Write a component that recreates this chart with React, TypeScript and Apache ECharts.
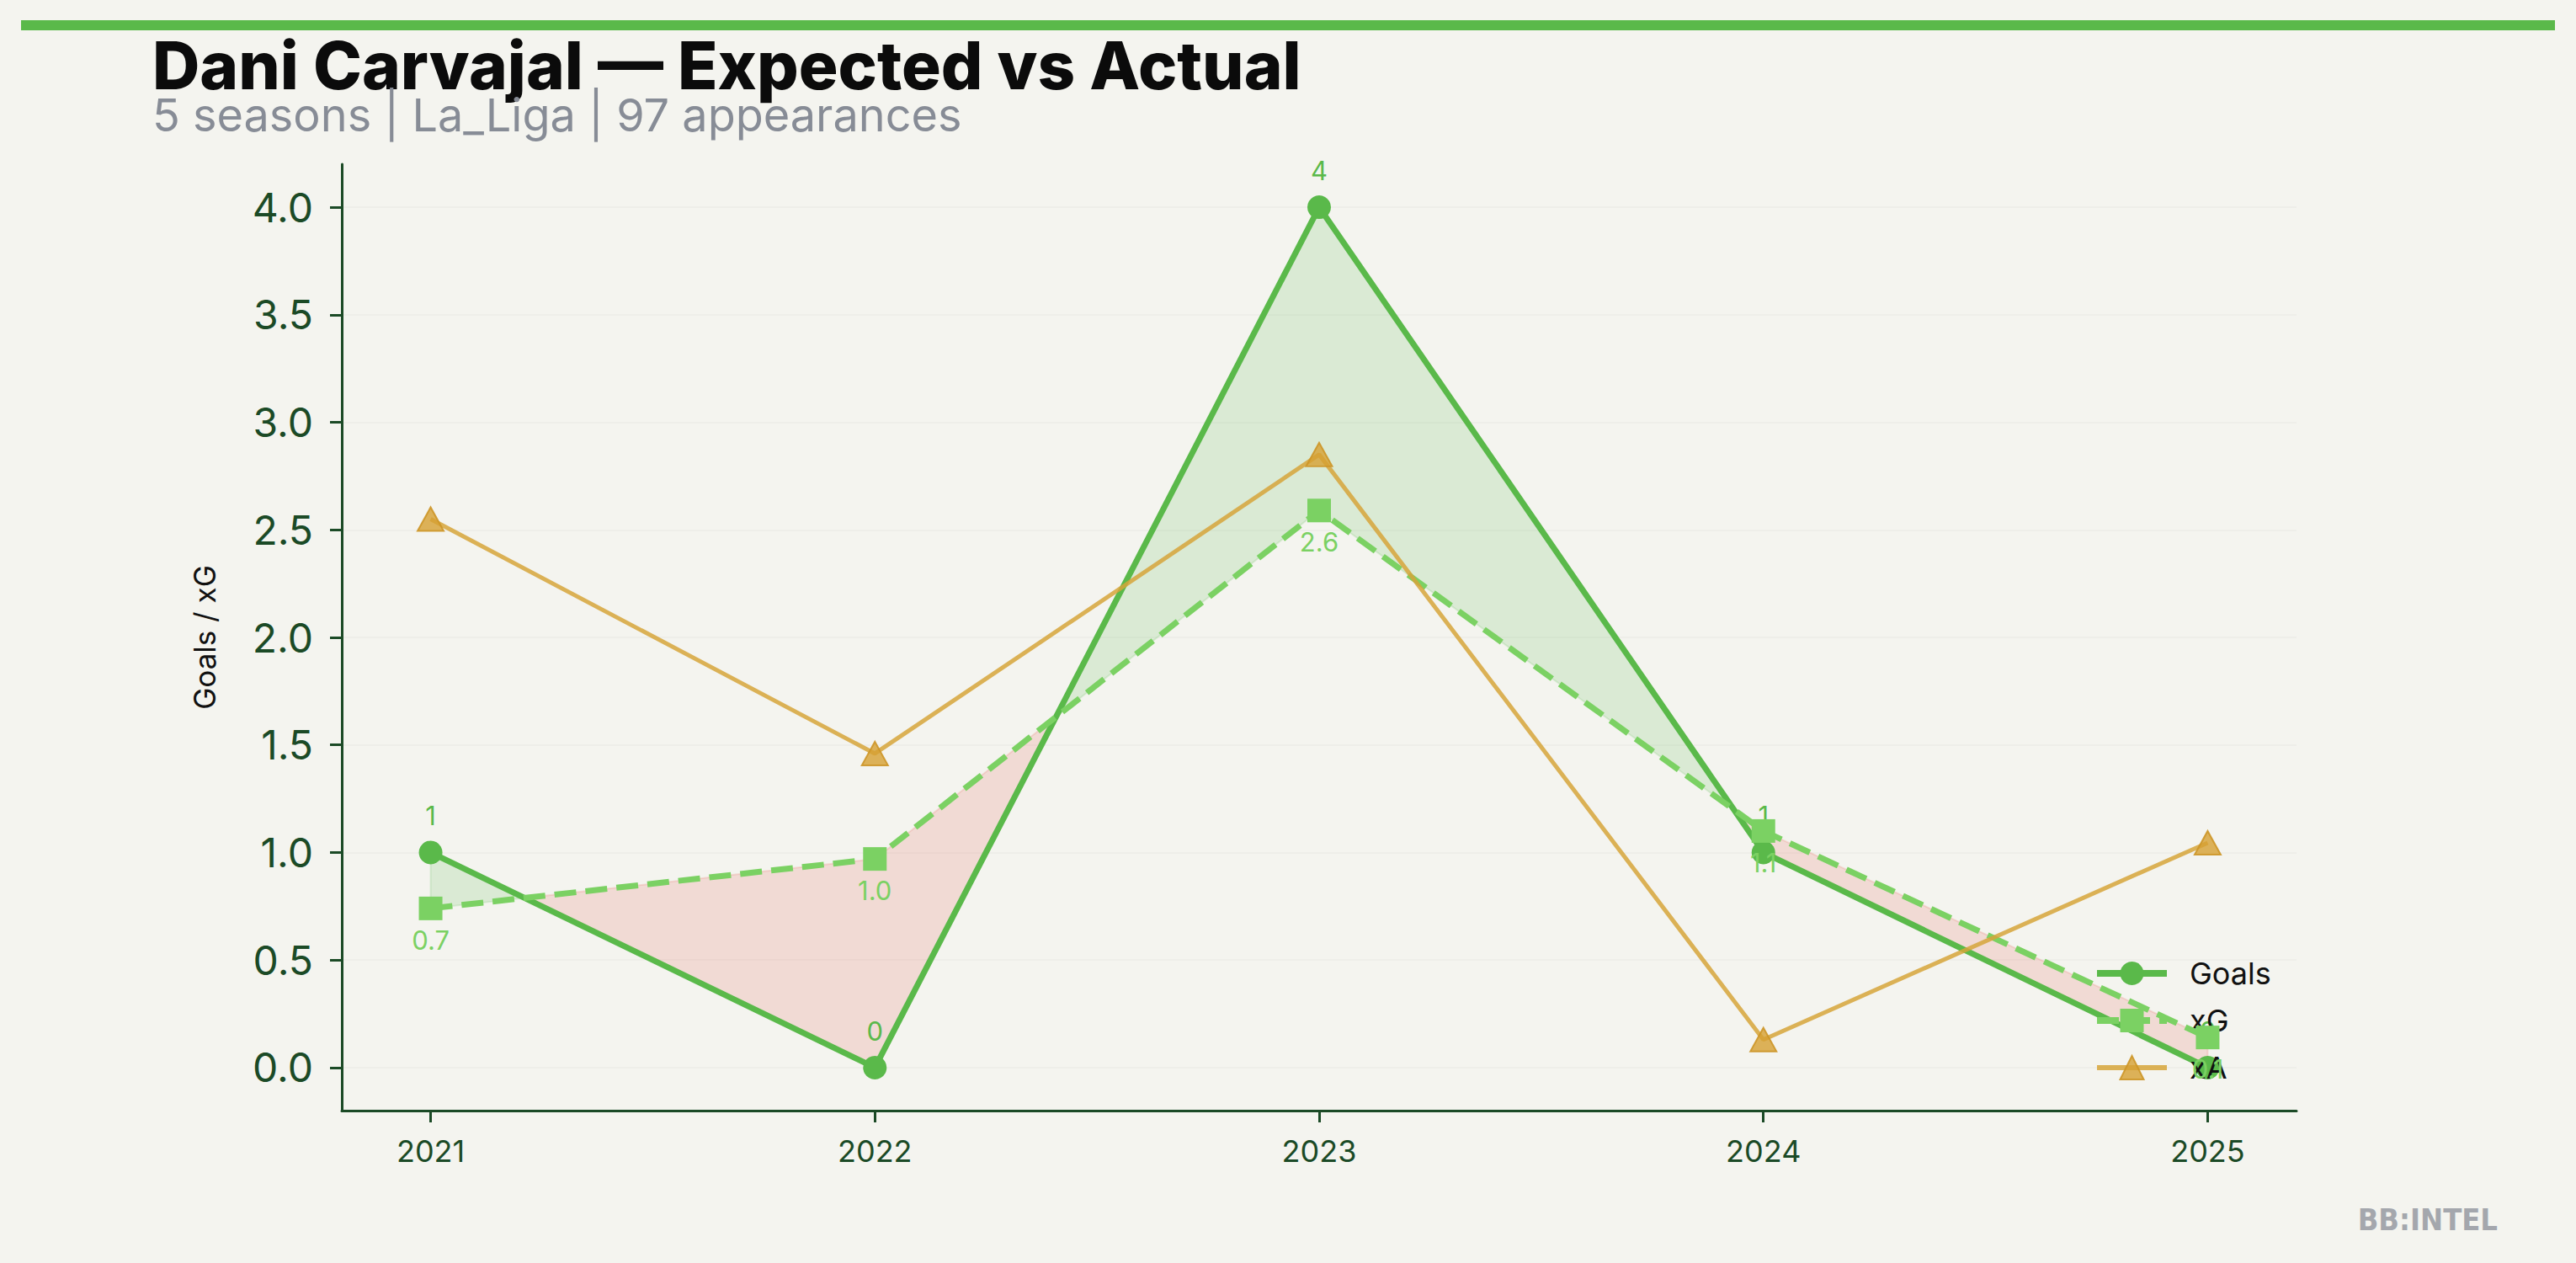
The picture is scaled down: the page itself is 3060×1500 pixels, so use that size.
import React, { useEffect, useRef } from "react";
import * as echarts from "echarts";

const seasons = ["2021", "2022", "2023", "2024", "2025"];
const goals = [1, 0, 4, 1, 0];
const xg = [0.74, 0.97, 2.59, 1.1, 0.14];
const xa = [2.55, 1.46, 2.85, 0.13, 1.045];
const yTicks = [0, 0.5, 1, 1.5, 2, 2.5, 3, 3.5, 4];
const xTicks = [0, 1, 2, 3, 4];

const BG = "#f4f4ef";
const AXIS = "#1b4a26";
const GOALS_C = "#5ab94a";
const XG_C = "#7bd163";
const XA_C = "rgba(214,164,58,0.85)";
const FONT = "Inter, 'Noto Sans', sans-serif";

export default function App() {
  const ref = useRef<HTMLDivElement>(null);

  useEffect(() => {
    if (!ref.current) return;
    const chart = echarts.init(ref.current, undefined, { renderer: "svg" });

    const pair = (arr: number[]) => arr.map((v, i) => [i, v]);

    const option: any = {
      animation: false,
      backgroundColor: BG,
      textStyle: { fontFamily: FONT },
      grid: { left: 406, right: 332, top: 195, bottom: 181, containLabel: false },
      xAxis: {
        type: "value",
        min: -0.2,
        max: 4.2,
        axisLine: { show: true, onZero: false, lineStyle: { color: AXIS, width: 3 } },
        axisTick: { show: true, length: 14, customValues: xTicks, lineStyle: { color: AXIS, width: 3 } },
        axisLabel: {
          customValues: xTicks,
          formatter: (v: number) => seasons[Math.round(v)] ?? "",
          color: AXIS,
          fontSize: 36,
          fontFamily: FONT,
          margin: 30,
        },
        splitLine: { show: false },
      },
      yAxis: {
        type: "value",
        min: -0.2,
        max: 4.2,
        name: "Goals / xG",
        nameLocation: "middle",
        nameRotate: 90,
        nameGap: 146,
        nameTextStyle: { color: "#111111", fontSize: 35, fontFamily: FONT },
        axisLine: { show: true, onZero: false, lineStyle: { color: AXIS, width: 3 } },
        axisTick: { show: true, length: 14, customValues: yTicks, lineStyle: { color: AXIS, width: 3 } },
        axisLabel: {
          customValues: yTicks,
          formatter: (v: number) => v.toFixed(1),
          color: AXIS,
          fontSize: 48,
          fontFamily: FONT,
          margin: 34,
        },
        splitLine: { show: true, lineStyle: { color: "rgba(0,0,0,0.022)", width: 2 } },
      },
      legend: {
        orient: "vertical",
        left: 2487,
        top: 1138,
        padding: 0,
        itemWidth: 83,
        itemHeight: 35,
        itemGap: 20,
        data: [
          { name: "Goals", lineStyle: { width: 8 } },
          { name: "xG", lineStyle: { width: 8 } },
          { name: "xA", lineStyle: { width: 6 } },
        ],
        textStyle: { color: "#111111", fontSize: 36, fontFamily: FONT, padding: [0, 0, 0, 22] },
      },
      graphic: [
        { type: "rect", shape: { x: 25, y: 24, width: 3010, height: 12 }, style: { fill: "#5ab94a" }, silent: true },
        {
          type: "text",
          x: 181,
          y: 38,
          style: {
            text: "Dani Carvajal — Expected vs Actual",
            fill: "#0b0b0b",
            font: `800 78px ${FONT}`,
            verticalAlign: "top",
          },
        },
        {
          type: "text",
          x: 181,
          y: 109,
          style: {
            text: "5 seasons | La_Liga | 97 appearances",
            fill: "#878c96",
            font: `400 54px ${FONT}`,
            verticalAlign: "top",
          },
        },
        {
          type: "text",
          x: 2967,
          y: 1448,
          style: {
            text: "BB:INTEL",
            fill: "#a4a7ad",
            font: `700 36px 'Liberation Sans Narrow', 'DejaVu Sans Condensed', 'Roboto Condensed', sans-serif`,
            align: "right",
            verticalAlign: "middle",
          },
        },
      ],
      series: [
        {
          name: "fill",
          type: "custom",
          z: 1,
          silent: true,
          coordinateSystem: "cartesian2d",
          encode: { x: 0, y: 1 },
          data: [[0, goals[0]]],
          renderItem: (params: any, api: any) => {
            const P = (x: number, y: number) => api.coord([x, y]);
            const green = "rgba(90,185,74,0.16)";
            const red = "rgba(231,76,60,0.15)";
            const children: any[] = [];
            let top: number[][] = [];
            let bot: number[][] = [];
            let sign = Math.sign(goals[0] - xg[0]);
            const flush = () => {
              if (top.length > 1) {
                const col = sign > 0 ? green : red;
                children.push({
                  type: "polygon",
                  shape: { points: top.concat(bot.slice().reverse()) },
                  style: { fill: col, stroke: col, lineWidth: 2 },
                });
              }
            };
            top.push(P(0, goals[0]));
            bot.push(P(0, xg[0]));
            for (let i = 0; i < goals.length - 1; i++) {
              const g0 = goals[i], g1 = goals[i + 1];
              const e0 = xg[i], e1 = xg[i + 1];
              const d0 = g0 - e0, d1 = g1 - e1;
              if (d0 * d1 < 0) {
                const t = d0 / (d0 - d1);
                const xc = i + t;
                const yc = g0 + t * (g1 - g0);
                top.push(P(xc, yc));
                bot.push(P(xc, yc));
                flush();
                sign = Math.sign(d1);
                top = [P(xc, yc)];
                bot = [P(xc, yc)];
              }
              top.push(P(i + 1, g1));
              bot.push(P(i + 1, e1));
            }
            flush();
            return { type: "group", children };
          },
        },
        {
          name: "Goals",
          type: "line",
          z: 3,
          data: pair(goals),
          symbol: "circle",
          symbolSize: 28,
          lineStyle: { color: GOALS_C, width: 7 },
          itemStyle: { color: GOALS_C },
          label: {
            show: true,
            position: "top",
            distance: 14,
            color: GOALS_C,
            fontSize: 31,
            fontFamily: FONT,
            formatter: (p: any) => String(p.value[1]),
          },
        },
        {
          name: "xG",
          type: "line",
          z: 4,
          data: pair(xg),
          symbol: "rect",
          symbolSize: 28,
          lineStyle: { color: XG_C, width: 7, type: [26, 11] },
          itemStyle: { color: XG_C },
          label: {
            show: true,
            position: "bottom",
            distance: 8,
            color: XG_C,
            fontSize: 31,
            fontFamily: FONT,
            formatter: (p: any) => Number(p.value[1]).toFixed(1),
          },
        },
        {
          name: "xA",
          type: "line",
          z: 5,
          data: pair(xa),
          symbol: "triangle",
          symbolSize: [31, 28],
          lineStyle: { color: XA_C, width: 5 },
          itemStyle: { color: "rgba(214,160,50,0.8)", borderColor: "rgba(205,150,40,0.9)", borderWidth: 2 },
        },
      ],
    };

    chart.setOption(option);
    return () => chart.dispose();
  }, []);

  return (
    <div
      ref={ref}
      style={{ position: "fixed", left: 0, top: 0, width: 3060, height: 1500, background: BG }}
    />
  );
}
